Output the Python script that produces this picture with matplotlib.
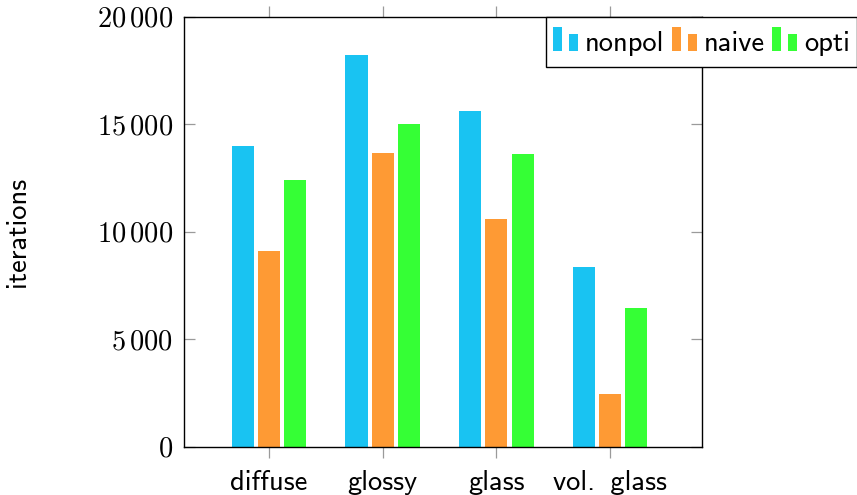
import matplotlib
matplotlib.use("Agg")
import matplotlib.pyplot as plt
import numpy as np
from matplotlib.patches import Rectangle
from matplotlib.legend_handler import HandlerBase

categories = ['diffuse', 'glossy', 'glass', 'vol. \u2009glass']
series_names = ['nonpol', 'naive', 'opti']
nonpol = [13970, 18210, 15610, 8350]
naive = [9120, 13670, 10600, 2440]
opti = [12390, 15000, 13590, 6450]
y_ticks = [0, 5000, 10000, 15000, 20000]
y_tick_labels = [r'$0$', r'$5\,000$', r'$10\,000$', r'$15\,000$', r'$20\,000$']
colors = ['#19C3F2', '#FE9A34', '#35FF35']

plt.rcParams['mathtext.fontset'] = 'cm'
plt.rcParams['font.family'] = ['cmss10', 'DejaVu Sans']
plt.rcParams['axes.unicode_minus'] = False

FS = 20.5

class TwoBarHandler(HandlerBase):
    def create_artists(self, legend, orig_handle, xdescent, ydescent,
                       width, height, fontsize, trans):
        c = orig_handle.get_facecolor()
        bw = width * 0.36
        y0 = 0.5
        r1 = Rectangle((-xdescent, y0), bw, 17.3, facecolor=c,
                       edgecolor='none', transform=trans)
        r2 = Rectangle((-xdescent + width - bw, y0), bw, 12.2, facecolor=c,
                       edgecolor='none', transform=trans)
        return [r1, r2]

fig = plt.figure(figsize=(8.57, 4.95), dpi=100)
ax = fig.add_axes([184/857, 1 - 446.7/495, (702-184)/857, (446.7-16.5)/495])

x = np.arange(len(categories))
step = 0.231
bw = 0.195
bars = []
for i, (vals, c, name) in enumerate(zip([nonpol, naive, opti], colors, series_names)):
    b = ax.bar(x + (i - 1) * step, vals, width=bw, color=c, label=name,
               edgecolor='none', zorder=2)
    bars.append(b)

ax.set_xlim(-0.748, 3.809)
ax.set_ylim(0, 20000)
ax.set_yticks(y_ticks)
ax.set_yticklabels(y_tick_labels, fontsize=FS)
ax.set_xticks(x)
ax.set_xticklabels(categories, fontsize=FS)

for s in ax.spines.values():
    s.set_linewidth(1.0)
    s.set_color('black')

ax.tick_params(axis='y', which='both', direction='in', length=7.9, width=0.9,
               color='#9a9a9a', left=True, right=True, pad=7.9)
ax.tick_params(axis='x', which='both', direction='out', length=7.9, width=0.9,
               color='#9a9a9a', top=True, bottom=True, pad=9.0)

ax.set_ylabel('iterations', fontsize=FS)
ax.yaxis.set_label_coords(-0.298, 0.5)

handles = [b.patches[0] for b in bars]
leg = fig.legend(handles, series_names, loc='upper left',
                 bbox_to_anchor=(545.7/857, 1 - 17.3/495), borderaxespad=0,
                 ncol=3, fontsize=FS, handlelength=0.878, handleheight=1.5,
                 handletextpad=0.25, columnspacing=0.25, borderpad=0.26,
                 frameon=True, fancybox=False, framealpha=1,
                 edgecolor='black',
                 handler_map={Rectangle: TwoBarHandler()})
leg.get_frame().set_linewidth(1.0)

fig.savefig('out.png', dpi=100)
